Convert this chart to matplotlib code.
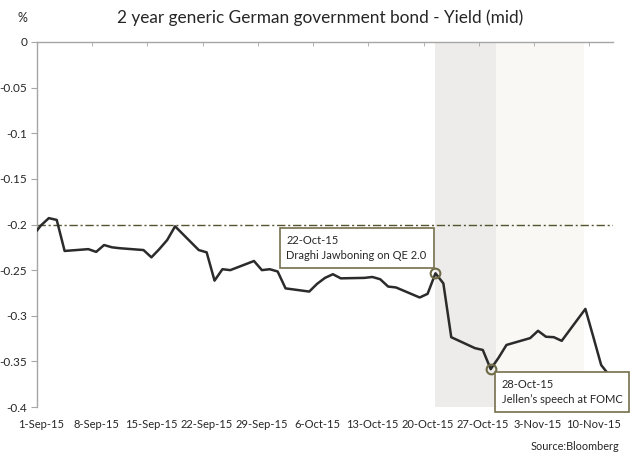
import matplotlib
matplotlib.use("Agg")
import matplotlib.pyplot as plt
import matplotlib.dates as mdates
from matplotlib.ticker import FixedLocator, FixedFormatter
import pandas as pd

plt.rcParams['font.family'] = ['Lato', 'DejaVu Sans']

# Business-day closes, 31 Aug - 12 Nov 2015
dates = pd.bdate_range("2015-08-31", "2015-11-12")
yield_mid = [
    -0.212, -0.201, -0.193, -0.195, -0.229,
    -0.227, -0.230, -0.2225, -0.225, -0.226,
    -0.228, -0.236, -0.227, -0.217, -0.202,
    -0.228, -0.2305, -0.2615, -0.249, -0.250,
    -0.240, -0.250, -0.249, -0.2515, -0.270,
    -0.2735, -0.265, -0.2585, -0.2545, -0.259,
    -0.2585, -0.2575, -0.260, -0.268, -0.269,
    -0.280, -0.276, -0.2535, -0.2645, -0.3235,
    -0.3355, -0.3375, -0.3585, -0.346, -0.332,
    -0.3245, -0.3165, -0.323, -0.3235, -0.3275,
    -0.2925, -0.323, -0.354, -0.365,
]
series = pd.Series(yield_mid, index=dates)

event_dates = pd.to_datetime(["2015-10-21", "2015-10-28"])
event_labels = ["22-Oct-15\nDraghi Jawboning on QE 2.0",
                "28-Oct-15\nJellen\u2019s speech at FOMC"]
event_offsets = [(-149, 38), (11, -10)]

reference_level = -0.2
shade_spans = [("2015-10-21 00:00", "2015-10-28 16:00", "#EDECEA"),
               ("2015-10-28 16:00", "2015-11-08 21:00", "#F9F8F4")]

tick_dates = pd.date_range("2015-09-01", "2015-11-10", freq="7D")
tick_labels = [d.strftime("%-d-%b-%y") for d in tick_dates]
y_ticks = [0, -0.05, -0.1, -0.15, -0.2, -0.25, -0.3, -0.35, -0.4]
y_labels = ["0", "-0.05", "-0.1", "-0.15", "-0.2", "-0.25", "-0.3", "-0.35", "-0.4"]

fig = plt.figure(figsize=(6.4, 4.59), dpi=100)
ax = fig.add_axes([37 / 640, 1 - 407 / 459, (613 - 37) / 640, (407 - 42) / 459])

x0 = mdates.date2num(pd.Timestamp("2015-09-01")) - 0.5
x1 = mdates.date2num(pd.Timestamp("2015-11-12")) + 0.5
ax.set_xlim(x0, x1)
ax.set_ylim(-0.4, 0)

for start, end, color in shade_spans:
    ax.axvspan(pd.Timestamp(start), pd.Timestamp(end), color=color, lw=0, zorder=0)

ax.axhline(reference_level, color="#55542e", lw=1.0, ls=(0, (6, 2, 1.5, 2)), zorder=1)

ax.plot(series.index, series.values, color="#2b2b2b", lw=1.8, zorder=3,
        solid_joinstyle="round")

for d, label, off in zip(event_dates, event_labels, event_offsets):
    v = series.loc[d]
    ax.plot([d], [v], marker="o", ms=7, mfc="none", mec="#6e6a45", mew=1.5,
            zorder=4, clip_on=False)
    ax.annotate(label, xy=(d, v), xytext=off, textcoords="offset pixels",
                ha="left", va="top", fontsize=8, color="#262626",
                linespacing=1.45, zorder=5, annotation_clip=False,
                bbox=dict(boxstyle="square,pad=0.62", fc="white",
                          ec="#75704e", lw=1.2))

# x-axis runs along y = 0; labels sit at the bottom
ax.xaxis.set_major_locator(FixedLocator(mdates.date2num(tick_dates)))
ax.xaxis.set_major_formatter(FixedFormatter(tick_labels))
ax.xaxis.set_minor_locator(FixedLocator(mdates.date2num(tick_dates) - 0.5))
ax.tick_params(axis="x", which="major", length=0, labelsize=8,
               colors="#262626", pad=9)
ax.tick_params(axis="x", which="minor", top=True, bottom=False,
               direction="in", length=3, color="#a6a6a6")

ax.yaxis.set_major_locator(FixedLocator(y_ticks))
ax.yaxis.set_major_formatter(FixedFormatter(y_labels))
ax.tick_params(axis="y", which="major", direction="out", length=4,
               color="#a6a6a6", labelsize=8.5, labelcolor="#262626", pad=3)

for side in ("right", "bottom"):
    ax.spines[side].set_visible(False)
for side in ("left", "top"):
    ax.spines[side].set_color("#a6a6a6")
    ax.spines[side].set_linewidth(1.0)

fig.text(0.5, 1 - 18 / 459, "2 year generic German government bond - Yield (mid)",
         ha="center", va="center", fontsize=12.4, color="#262626")
fig.text(22 / 640, 1 - 18 / 459, "%", ha="center", va="center",
         fontsize=9, color="#262626")
fig.text(619 / 640, 1 - 446 / 459, "Source:Bloomberg", ha="right", va="center",
         fontsize=7.8, color="#262626")

fig.savefig("out.png", dpi=100)
